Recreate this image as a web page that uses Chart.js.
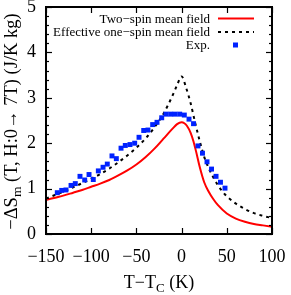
<!DOCTYPE html>
<html>
<head>
<meta charset="utf-8">
<script src="https://cdn.jsdelivr.net/npm/chart.js@4.4.0/dist/chart.umd.min.js"></script>
<style>
  html, body { margin: 0; padding: 0; background: #fff; }
  #wrap { width: 291px; height: 295px; }
</style>
</head>
<body>
<div id="wrap"><canvas id="chart"></canvas></div>
<script>
// --- data ---
const expTemp = [-137.5, -132.6, -127.9, -122.3, -117.6, -112.4, -107.2, -102.4, -97.7, -92.1,
  -86.9, -82.2, -77, -72.2, -67, -62.3, -57.1, -51.9, -47.1, -41.9, -37.2, -32, -27.2, -22,
  -17.3, -12.1, -7.3, -2.1, 3, 8.2, 13.2, 18.1, 23.1, 28.1, 33.1, 38.1, 43, 48];
const expDS = [0.91, 0.96, 0.97, 1.07, 1.11, 1.27, 1.19, 1.31, 1.20, 1.39,
  1.47, 1.54, 1.72, 1.66, 1.89, 1.95, 1.97, 2.00, 2.13, 2.28, 2.29, 2.41, 2.46, 2.56,
  2.64, 2.64, 2.64, 2.64, 2.62, 2.53, 2.43, 1.94, 1.78, 1.59, 1.43, 1.27, 1.14, 1.01];

const twoTemp = [-150, -140, -130, -120, -110, -100, -90, -80, -70, -60, -50, -40, -30, -20, -10, -5, 0,
  3, 6, 10, 13, 16, 20, 25, 30, 35, 40, 50, 60, 70, 80, 90, 100];
const twoDS = [0.75, 0.80, 0.85, 0.91, 0.97, 1.04, 1.11, 1.19, 1.29, 1.40, 1.53, 1.69, 1.88, 2.10, 2.32, 2.42, 2.46,
  2.44, 2.38, 2.23, 2.05, 1.82, 1.48, 1.14, 0.93, 0.77, 0.64, 0.45, 0.34, 0.27, 0.22, 0.19, 0.16];

const effTemp = [-150, -140, -130, -120, -110, -100, -90, -80, -70, -60, -50, -40, -30, -20, -10, -5, 0,
  5, 10, 15, 20, 25, 30, 35, 40, 45, 50, 60, 70, 80, 90, 100];
const effDS = [0.78, 0.86, 0.94, 1.03, 1.12, 1.22, 1.32, 1.44, 1.58, 1.73, 1.90, 2.10, 2.35, 2.65, 3.05, 3.28, 3.47,
  3.22, 2.88, 2.45, 2.05, 1.70, 1.45, 1.25, 1.08, 0.94, 0.83, 0.67, 0.55, 0.46, 0.40, 0.35];

const xTicks = [-150, -100, -50, 0, 50, 100];
const seriesLabels = ['Two\u2212spin mean field', 'Effective one\u2212spin mean field', 'Exp.'];

const SERIF = '"Liberation Serif", "DejaVu Serif", serif';
const pts = (xs, ys) => xs.map((x, i) => ({ x, y: ys[i] }));
const minus = v => (v < 0 ? '\u2212' + Math.abs(v) : String(v));

// inward ticks, frame, legend and axis titles
const decorations = {
  id: 'decorations',
  afterDraw(chart) {
    const { ctx, chartArea: a, scales: { x, y } } = chart;
    ctx.save();
    ctx.strokeStyle = '#000';
    ctx.lineWidth = 1.2;
    const seg = (x1, y1, x2, y2) => { ctx.beginPath(); ctx.moveTo(x1, y1); ctx.lineTo(x2, y2); ctx.stroke(); };
    x.ticks.forEach(t => {
      const px = Math.round(x.getPixelForValue(t.value)) + 0.5;
      seg(px, a.bottom, px, a.bottom - 6);
      seg(px, a.top, px, a.top + 6);
    });
    y.ticks.forEach(t => {
      const major = Math.abs(t.value - Math.round(t.value)) < 1e-6;
      const len = major ? 6 : 3;
      const py = Math.round(y.getPixelForValue(t.value)) + 0.5;
      seg(a.left, py, a.left + len, py);
      seg(a.right, py, a.right - len, py);
    });
    ctx.lineWidth = 2;
    ctx.strokeRect(a.left, a.top, a.right - a.left, a.bottom - a.top);

    // legend (text right-aligned, sample to its right)
    const ds = chart.data.datasets;
    ctx.font = '13px ' + SERIF;
    ctx.fillStyle = '#000';
    ctx.textAlign = 'right';
    ctx.textBaseline = 'alphabetic';
    const rows = [18.5, 32, 45];
    ds.forEach((d, i) => {
      ctx.fillText(d.label, 210, rows[i] + 4);
      if (d.showLine === false) {
        ctx.fillStyle = d.backgroundColor;
        ctx.fillRect(233, rows[i] - 2.5, 5, 5);
        ctx.fillStyle = '#000';
      } else {
        ctx.save();
        ctx.strokeStyle = d.borderColor;
        ctx.lineWidth = d.borderWidth;
        ctx.setLineDash(d.borderDash || []);
        seg(218, rows[i], 254, rows[i]);
        ctx.restore();
      }
    });

    // x title: T−T_C (K)
    ctx.textAlign = 'left';
    const cx = (a.left + a.right) / 2;
    const big = '18px ' + SERIF, small = '13px ' + SERIF;
    ctx.font = big; const w1 = ctx.measureText('T\u2212T').width;
    ctx.font = small; const w2 = ctx.measureText('C').width;
    ctx.font = big; const w3 = ctx.measureText(' (K)').width;
    let sx = cx - (w1 + w2 + w3) / 2;
    const by = 288;
    ctx.font = big; ctx.fillText('T\u2212T', sx, by); sx += w1;
    ctx.font = small; ctx.fillText('C', sx, by + 4); sx += w2;
    ctx.font = big; ctx.fillText(' (K)', sx, by);

    // y title: −ΔS_m (T, H:0→ 7T) (J/K kg)
    const bigY = '18.5px ' + SERIF, smallY = '13.5px ' + SERIF;
    ctx.save();
    ctx.translate(17, (a.top + a.bottom) / 2 + 1);
    ctx.rotate(-Math.PI / 2);
    ctx.font = bigY; const p1 = ctx.measureText('\u2212\u0394S').width;
    ctx.font = smallY; const p2 = ctx.measureText('m').width;
    ctx.font = bigY; const p3 = ctx.measureText(' (T, H:0\u2192 7T) (J/K kg)').width;
    let ty = -(p1 + p2 + p3) / 2;
    ctx.font = bigY; ctx.fillText('\u2212\u0394S', ty, 0); ty += p1;
    ctx.font = smallY; ctx.fillText('m', ty, 4); ty += p2;
    ctx.font = bigY; ctx.fillText(' (T, H:0\u2192 7T) (J/K kg)', ty, 0);
    ctx.restore();

    ctx.restore();
  }
};

new Chart(document.getElementById('chart'), {
  type: 'scatter',
  data: {
    datasets: [
      { label: seriesLabels[0], data: pts(twoTemp, twoDS), showLine: true, borderColor: '#ff0000', borderWidth: 2,
        pointRadius: 0, cubicInterpolationMode: 'monotone', order: 1 },
      { label: seriesLabels[1], data: pts(effTemp, effDS), showLine: true, borderColor: '#000000', borderWidth: 2,
        borderDash: [3, 4], pointRadius: 0, cubicInterpolationMode: 'monotone', order: 2 },
      { label: seriesLabels[2], data: pts(expTemp, expDS), showLine: false, backgroundColor: '#0022ff',
        borderWidth: 0, pointStyle: 'rect', pointRadius: 3.5, order: 0 }
    ]
  },
  options: {
    responsive: true,
    maintainAspectRatio: false,
    animation: false,
    devicePixelRatio: 1,
    layout: { padding: { top: 7, right: 19, left: 0, bottom: 0 } },
    plugins: { legend: { display: false }, tooltip: { enabled: false } },
    scales: {
      x: {
        type: 'linear', min: -150, max: 100,
        afterBuildTicks: s => { s.ticks = xTicks.map(v => ({ value: v })); },
        afterFit: s => { s.height = 61; s.paddingLeft = 0; s.paddingRight = 0; },
        grid: { display: false, drawTicks: false },
        border: { display: false },
        ticks: { color: '#000', font: { family: SERIF, size: 18 }, padding: 12, maxRotation: 0,
          autoSkip: false, callback: v => minus(v) }
      },
      y: {
        min: 0, max: 5,
        afterFit: s => { s.width = 46; s.paddingTop = 0; s.paddingBottom = 0; },
        grid: { display: false, drawTicks: false },
        border: { display: false },
        ticks: { color: '#000', font: { family: SERIF, size: 18 }, padding: 10, stepSize: 0.2, autoSkip: false,
          callback: v => (Math.abs(v - Math.round(v)) < 1e-6 ? String(Math.round(v)) : '') }
      }
    }
  },
  plugins: [decorations]
});
</script>
</body>
</html>
